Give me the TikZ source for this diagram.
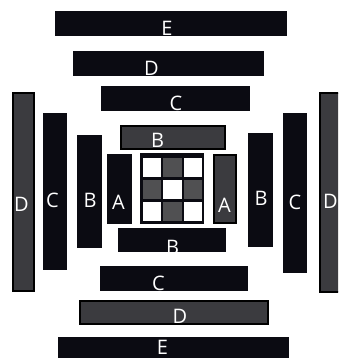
\documentclass[tikz,border=0pt]{standalone}
\usepackage{fontspec}
\setmainfont{Open Sans}
\usepackage{tikz}
\usepackage{xcolor}
\definecolor{barblack}{HTML}{0B0B12}
\definecolor{bargray}{HTML}{3B3B3F}
\definecolor{cellgray}{HTML}{505052}

\begin{document}
\begin{tikzpicture}[x=1pt, y=-1pt,
    darkbar/.style={draw=barblack, line width=1pt, fill=barblack, inner sep=0pt},
    graybar/.style={draw=black, line width=2pt, fill=bargray, inner sep=0pt},
    lbl/.style={text=white, font=\fontsize{20}{20}\selectfont, inner sep=0pt}]
    \useasboundingbox (0,0) rectangle (338,358);
    \clip (0,0) rectangle (338,358);
    % Top bars
    \node[darkbar, minimum width=231pt, minimum height=24pt] (Etop) at (171,23.5) {};
    \node[darkbar, minimum width=190pt, minimum height=24pt] (Dtop) at (168.5,63.5) {};
    \node[darkbar, minimum width=148pt, minimum height=24pt] (Ctop) at (175.5,98.5) {};
    \node[graybar, minimum width=104pt, minimum height=23pt] (Btop) at (173,137.5) {};
    % Bottom bars
    \node[darkbar, minimum width=107pt, minimum height=23pt] (Bbot) at (172,240) {};
    \node[darkbar, minimum width=147pt, minimum height=24pt] (Cbot) at (174,278.5) {};
    \node[graybar, minimum width=188pt, minimum height=23pt] (Dbot) at (174,312.5) {};
    \node[darkbar, minimum width=230pt, minimum height=21pt] (Ebot) at (173.5,347.5) {};
    % Left bars
    \node[graybar, minimum width=21pt, minimum height=198pt] (Dleft) at (23.5,192) {};
    \node[darkbar, minimum width=23pt, minimum height=156pt] (Cleft) at (55,191.5) {};
    \node[darkbar, minimum width=24pt, minimum height=112pt] (Bleft) at (89.5,191.5) {};
    \node[darkbar, minimum width=24pt, minimum height=69pt] (Aleft) at (119.5,189) {};
    % Right bars
    \node[graybar, minimum width=22pt, minimum height=68pt] (Aright) at (225,189) {};
    \node[darkbar, minimum width=24pt, minimum height=113pt] (Bright) at (260.5,190) {};
    \node[darkbar, minimum width=23pt, minimum height=159pt] (Cright) at (295,193) {};
    \node[graybar, minimum width=24pt, minimum height=199pt] (Dright) at (332,192.5) {};
    % Centre grid
    \node[darkbar, minimum width=63pt, minimum height=70pt] (grid) at (172,188.5) {};
    \foreach \i in {0,1,2} {
        \foreach \j in {0,1,2} {
            \pgfmathtruncatemacro\cellodd{mod(\i+\j,2)}
            \ifnum\cellodd=1 \def\cellfill{cellgray}\else\def\cellfill{white}\fi
            \node[fill=\cellfill, inner sep=0pt, minimum width=18.5pt, minimum height=19.5pt]
                (cell-\i-\j) at (151.75+20.7*\i, 167.25+22*\j) {};
        }
    }
    % Labels
    \node[lbl] (lblEtop) at (167,28) {E};
    \node[lbl] (lblDtop) at (151.5,68) {D};
    \node[lbl] (lblCtop) at (176,103) {C};
    \node[lbl] (lblBtop) at (157.5,140.5) {B};
    \node[lbl] (lblBbot) at (172.5,247) {B};
    \node[lbl] (lblCbot) at (158.5,283) {C};
    \node[lbl] (lblDbot) at (180,316) {D};
    \node[lbl] (lblEbot) at (162.5,347) {E};
    \node[lbl] (lblDleft) at (21.5,204) {D};
    \node[lbl] (lblCleft) at (52.5,200) {C};
    \node[lbl] (lblBleft) at (90,200) {B};
    \node[lbl] (lblAleft) at (118.5,202.5) {A};
    \node[lbl] (lblAright) at (224.5,205.5) {A};
    \node[lbl] (lblBright) at (261,198) {B};
    \node[lbl] (lblCright) at (295,202.5) {C};
    \node[lbl] (lblDright) at (330.5,201.5) {D};
\end{tikzpicture}
\end{document}
